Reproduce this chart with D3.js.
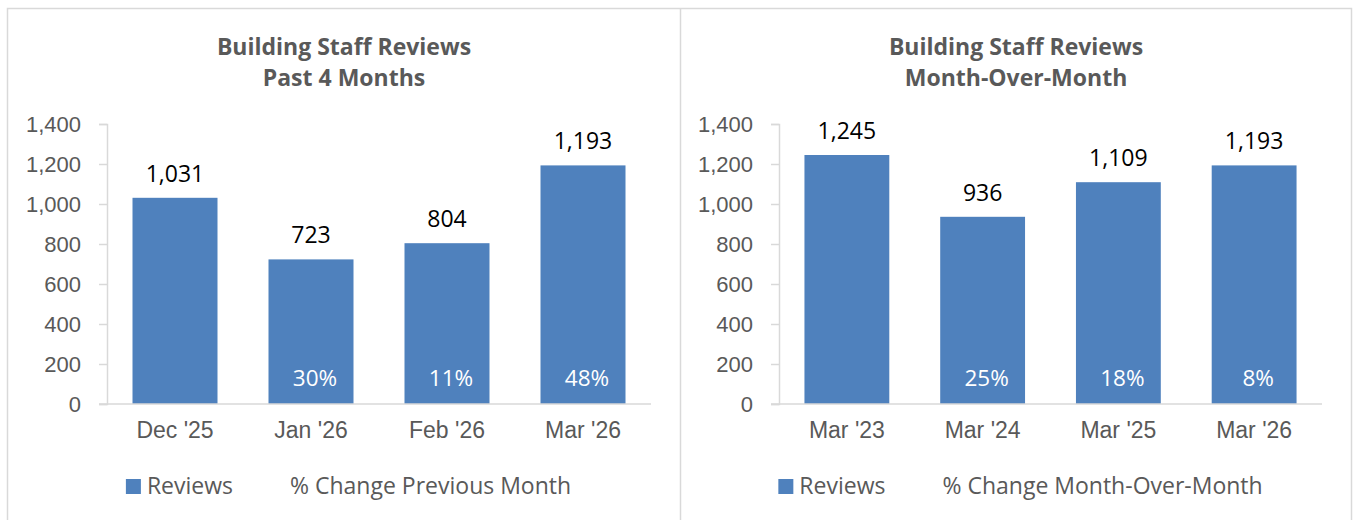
<!DOCTYPE html>
<html>
<head>
<meta charset="utf-8">
<script src="https://cdn.jsdelivr.net/npm/d3@7"></script>
<style>
  body { margin: 0; background: #fff; }
  svg { font-family: "Open Sans", "Noto Sans", sans-serif; }
</style>
</head>
<body>
<div id="chart"></div>
<script>
// data
var leftTitle = ["Building Staff Reviews", "Past 4 Months"];
var leftMonths = ["Dec '25", "Jan '26", "Feb '26", "Mar '26"];
var leftReviews = [1031, 723, 804, 1193];
var leftChange = [null, 30, 11, 48];
var leftChangeName = "% Change Previous Month";

var rightTitle = ["Building Staff Reviews", "Month-Over-Month"];
var rightMonths = ["Mar '23", "Mar '24", "Mar '25", "Mar '26"];
var rightReviews = [1245, 936, 1109, 1193];
var rightChange = [null, 25, 18, 8];
var rightChangeName = "% Change Month-Over-Month";

var yTicks = [0, 200, 400, 600, 800, 1000, 1200, 1400];

var barColor = "#4f81bd";
var textGray = "#595959";
var lineGray = "#d9d9d9";
var width = 1353, height = 520;

var svg = d3.select("#chart").append("svg")
    .attr("width", width)
    .attr("height", height);

// panel frames
svg.append("path")
    .attr("d", "M7.5,520 V8.5 H1351.5 V520 M680.5,8.5 V520")
    .attr("fill", "none")
    .attr("stroke", lineGray)
    .attr("stroke-width", 1.5);

function drawPanel(opts){
    let g = svg.append("g");
    let y = d3.scaleLinear().domain([0, 1400]).range([404, 124]);
    let x = d3.scaleBand().domain(opts.months).range([opts.plotLeft, opts.plotRight])
        .paddingInner(0.375).paddingOuter(0.1875);

    // title
    g.append("text")
        .attr("x", opts.center)
        .attr("y", 55)
        .attr("text-anchor", "middle")
        .attr("font-size", 23)
        .attr("font-weight", "bold")
        .attr("fill", textGray)
        .selectAll("tspan")
        .data(opts.title)
        .enter()
        .append("tspan")
        .attr("x", opts.center)
        .attr("dy", (d, i) => i == 0 ? 0 : 31)
        .text(d => d);

    // y axis
    let yAxis = g.append("g")
        .attr("transform", "translate(" + opts.plotLeft + ",0)")
        .call(d3.axisLeft(y).tickValues(yTicks).tickSize(8).tickPadding(18).tickFormat(d3.format(",")));
    yAxis.select(".domain").attr("stroke", lineGray).attr("stroke-width", 1.5);
    yAxis.selectAll(".tick line").attr("stroke", lineGray).attr("stroke-width", 1.5);
    yAxis.selectAll(".tick text")
        .attr("font-size", 22)
        .attr("fill", textGray)
        .attr("font-family", null);

    // bars
    g.selectAll("rect.bar")
        .data(opts.reviews)
        .enter()
        .append("rect")
        .classed("bar", true)
        .attr("x", (d, i) => x(opts.months[i]))
        .attr("width", x.bandwidth())
        .attr("y", d => y(d))
        .attr("height", d => y(0) - y(d))
        .attr("fill", barColor);

    // x axis
    let xAxis = g.append("g")
        .attr("transform", "translate(0," + y(0) + ")")
        .call(d3.axisBottom(x).tickSize(0).tickPadding(18));
    xAxis.select(".domain")
        .attr("d", "M" + (opts.plotLeft - 8) + ",0H" + opts.plotRight)
        .attr("stroke", lineGray).attr("stroke-width", 1.5);
    xAxis.selectAll(".tick text")
        .attr("font-size", 23)
        .attr("fill", textGray)
        .attr("font-family", null);

    // value labels
    g.selectAll("text.value")
        .data(opts.reviews)
        .enter()
        .append("text")
        .classed("value", true)
        .attr("x", (d, i) => x(opts.months[i]) + x.bandwidth() / 2)
        .attr("y", d => y(d) - 16)
        .attr("text-anchor", "middle")
        .attr("font-size", 23)
        .attr("fill", "#000")
        .text(d3.format(","));

    // % change labels inside bars
    g.selectAll("text.change")
        .data(opts.change.map((d, i) => ({v: d, m: opts.months[i]})).filter(d => d.v != null))
        .enter()
        .append("text")
        .classed("change", true)
        .attr("x", d => x(d.m) + x.bandwidth() / 2 + 4)
        .attr("y", 386)
        .attr("text-anchor", "middle")
        .attr("font-size", 22.5)
        .attr("fill", "#fff")
        .text(d => d.v + "%");

    // legend
    let leg = g.append("g");
    leg.append("rect")
        .attr("x", 0).attr("y", -8)
        .attr("width", 15).attr("height", 15)
        .attr("fill", barColor);
    let t1 = leg.append("text")
        .attr("x", 21).attr("y", 7)
        .attr("font-size", 23)
        .attr("fill", textGray)
        .text("Reviews");
    let w1 = t1.node().getComputedTextLength();
    let t2 = leg.append("text")
        .attr("x", 21 + w1 + 57).attr("y", 7)
        .attr("font-size", 23)
        .attr("fill", textGray)
        .text(opts.changeName);
    let w2 = t2.node().getComputedTextLength();
    let legW = 21 + w1 + 57 + w2;
    leg.attr("transform", "translate(" + (opts.center + 4.5 - legW / 2) + ",487)");
}

drawPanel({
    title: leftTitle, months: leftMonths, reviews: leftReviews,
    change: leftChange, changeName: leftChangeName,
    plotLeft: 107, plotRight: 651, center: 344
});
drawPanel({
    title: rightTitle, months: rightMonths, reviews: rightReviews,
    change: rightChange, changeName: rightChangeName,
    plotLeft: 779, plotRight: 1322, center: 1016
});
</script>
</body>
</html>
